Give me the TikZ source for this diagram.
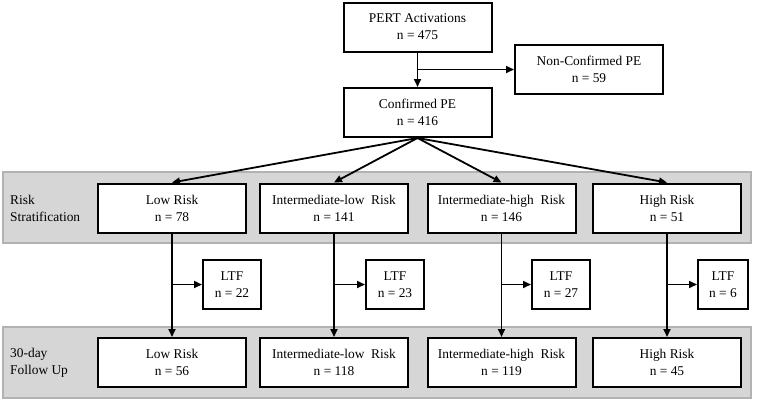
\documentclass[tikz,border=0pt]{standalone}
\usepackage{fontspec}
\setmainfont{Liberation Serif}
\usetikzlibrary{arrows.meta,positioning,calc}

\tikzset{
  box/.style={draw=black, line width=2pt, fill=white, minimum width=148pt, minimum height=49pt,
    align=center, inner sep=2pt, font=\fontsize{13.4}{17}\selectfont},
  ltfbox/.style={box, minimum width=58pt},
  band/.style={draw=black!30, fill=black!16, line width=1.2pt},
  bandlabel/.style={anchor=west, align=left, inner sep=0pt, font=\fontsize{13.4}{17}\selectfont},
  arr/.style={-{Triangle[length=8pt,width=7pt]}, line width=1.8pt},
}

\begin{document}
\begin{tikzpicture}[x=1pt,y=-1pt]

        \useasboundingbox (0,0) rectangle (759,402);

        % draw the grey bands
        \draw[band] (3,172) rectangle (751,243);
        \draw[band] (3,327) rectangle (751,398);
        \node[bandlabel] (lbl_rs) at (10,208) {Risk\\Stratification};
        \node[bandlabel] (lbl_fu) at (10,362.5) {30-day\\Follow Up};

        % draw the top boxes
        \node[box] (pert) at (417.5,27) {PERT Activations\\n = 475};
        \node[box] (ncpe) at (589,69.5) {Non-Confirmed PE\\n = 59};
        \node[box] (cpe) at (417.5,112.5) {Confirmed PE\\n = 416};

        % draw the risk stratification row
        \node[box] (rs_low) at (172,208) {Low Risk\\n = 78};
        \node[box] (rs_ilow) at (334,208) {Intermediate-low\ \ Risk\\n = 141};
        \node[box] (rs_ihigh) at (501.5,208) {Intermediate-high\ \ Risk\\n = 146};
        \node[box] (rs_high) at (667,208) {High Risk\\n = 51};

        % draw the lost to follow up boxes
        \node[ltfbox] (ltf_low) at (232,284.5) {LTF\\n = 22};
        \node[ltfbox] (ltf_ilow) at (395,284.5) {LTF\\n = 23};
        \node[ltfbox] (ltf_ihigh) at (561,284.5) {LTF\\n = 27};
        \node[ltfbox, minimum width=50pt] (ltf_high) at (723,284.5) {LTF\\n = 6};

        % draw the follow up row
        \node[box] (fu_low) at (172,362.5) {Low Risk\\n = 56};
        \node[box] (fu_ilow) at (334,362.5) {Intermediate-low\ \ Risk\\n = 118};
        \node[box] (fu_ihigh) at (501.5,362.5) {Intermediate-high\ \ Risk\\n = 119};
        \node[box] (fu_high) at (667,362.5) {High Risk\\n = 45};

        % draw the connecting arrows at the top
        \coordinate (split_top) at (pert.south |- ncpe.west);
        \draw[arr] (pert.south) -- (cpe.north);
        \draw[arr] (split_top) -- (ncpe.west);
        \draw[arr] (cpe.south) -- (rs_low.north);
        \draw[arr] (cpe.south) -- (rs_ilow.north);
        \draw[arr] (cpe.south) -- (rs_ihigh.north);
        \draw[arr] (cpe.south) -- (rs_high.north);

        % draw the arrows down to follow up
        \draw[arr] (rs_low.south) -- (fu_low.north);
        \draw[arr] (rs_ilow.south) -- (fu_ilow.north);
        \draw[arr] (rs_ihigh.south) -- (fu_ihigh.north);
        \draw[arr] (rs_high.south) -- (fu_high.north);

        % add the side arrows to LTF
        \coordinate (split_low) at (rs_low.south |- ltf_low.west);
        \coordinate (split_ilow) at (rs_ilow.south |- ltf_ilow.west);
        \coordinate (split_ihigh) at (rs_ihigh.south |- ltf_ihigh.west);
        \coordinate (split_high) at (rs_high.south |- ltf_high.west);
        \draw[arr] (split_low) -- (ltf_low.west);
        \draw[arr] (split_ilow) -- (ltf_ilow.west);
        \draw[arr] (split_ihigh) -- (ltf_ihigh.west);
        \draw[arr] (split_high) -- (ltf_high.west);

\end{tikzpicture}
\end{document}
